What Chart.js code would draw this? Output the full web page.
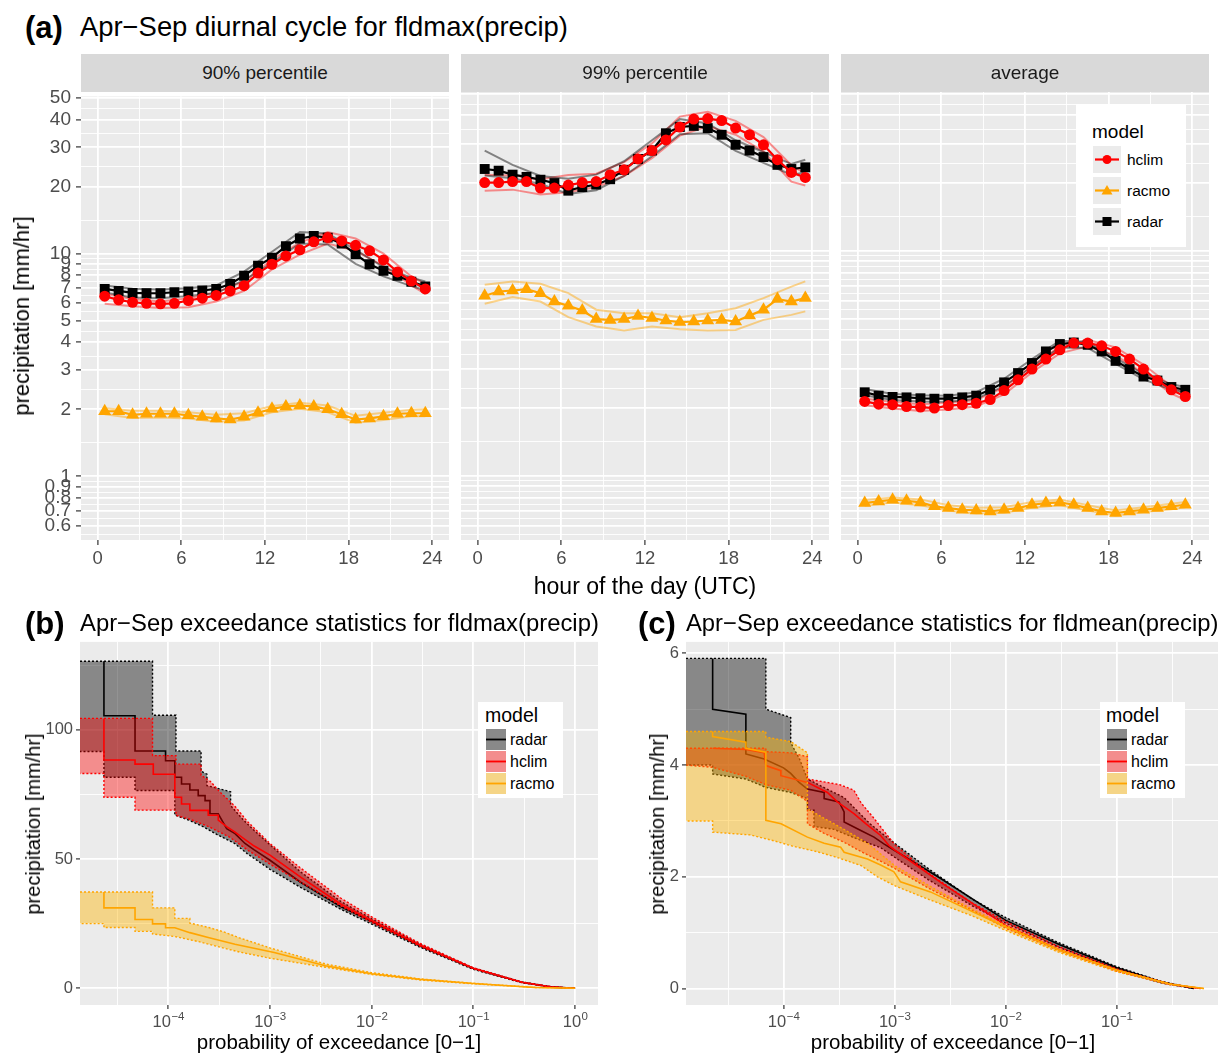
<!DOCTYPE html>
<html>
<head>
<meta charset="utf-8">
<title>Apr-Sep precipitation: diurnal cycle and exceedance</title>
<script src="https://cdn.jsdelivr.net/npm/chart.js@4.4.1/dist/chart.umd.min.js"></script>
<style>
  body { margin:0; width:1220px; height:1055px; position:relative; overflow:hidden; background:#fff;
         font-family:"Liberation Sans", Arial, sans-serif; color:#000; }
  canvas, .t, .strip, .box, svg { position:absolute; }
  .t { white-space:nowrap; line-height:1; }
  .strip { background:#d9d9d9; color:#1a1a1a; font-size:19px; text-align:center; line-height:38px; height:38px; }
  .box { background:#fff; }
</style>
</head>
<body>
<script>
// ---------- (a) diurnal cycle, hours of the day ----------
const HOURS = [0.5,1.5,2.5,3.5,4.5,5.5,6.5,7.5,8.5,9.5,10.5,11.5,12.5,13.5,14.5,15.5,16.5,17.5,18.5,19.5,20.5,21.5,22.5,23.5];
const BOUND_HOURS = [0.5,2.5,4.5,6.5,8.5,10.5,12.5,14.5,16.5,18.5,20.5,22.5,23.5];
const A_YTICKS = [0.6,0.7,0.8,0.9,1,2,3,4,5,6,7,8,9,10,20,30,40,50];
const A_XTICKS = [0,3,6,9,12,15,18,21,24];
const FACETS = ['90% percentile', '99% percentile', 'average'];

// 90% percentile
const P90_RADAR = [6.94,6.80,6.66,6.64,6.64,6.71,6.76,6.83,6.94,7.31,7.96,8.82,9.60,10.8,11.7,12.0,11.8,11.1,9.93,8.96,8.38,7.96,7.48,7.13];
const P90_HCLIM = [6.44,6.20,6.05,5.98,5.95,5.98,6.16,6.31,6.49,6.80,7.18,8.18,8.96,9.77,10.4,11.3,11.8,11.4,10.9,10.3,9.37,8.28,7.53,6.94];
const P90_RACMO = [1.96,1.96,1.89,1.91,1.91,1.91,1.88,1.85,1.82,1.80,1.85,1.93,2.01,2.06,2.08,2.06,2.00,1.90,1.80,1.82,1.86,1.91,1.92,1.92];
const P90_RADAR_HI = [7.2,6.95,6.9,7.0,7.2,8.3,10.2,12.5,12.3,10.4,8.7,7.8,7.5];
const P90_RADAR_LO = [6.7,6.35,6.3,6.45,6.65,7.6,9.1,11.1,11.0,9.0,7.9,7.15,6.85];
const P90_HCLIM_HI = [6.6,6.25,6.1,6.3,6.7,7.5,9.4,11.2,12.5,11.7,10.0,7.9,7.3];
const P90_HCLIM_LO = [5.95,5.8,5.7,5.75,6.1,6.8,8.5,9.9,11.1,10.3,8.8,7.2,6.6];
const P90_RACMO_HI = [2.02,1.97,1.97,1.94,1.89,1.92,2.07,2.14,2.08,1.87,1.93,1.99,2.00];
const P90_RACMO_LO = [1.90,1.83,1.84,1.82,1.76,1.78,1.94,2.01,1.94,1.74,1.79,1.86,1.86];

// 99% percentile
const P99_RADAR = [23.1,22.7,21.8,21.3,20.7,20.0,18.5,19.2,19.7,20.8,22.9,25.6,27.9,33.3,35.5,35.9,35.1,32.8,29.6,27.9,26.1,24.1,23.1,23.5];
const P99_HCLIM = [20.1,20.1,20.3,20.3,19.0,19.0,19.6,20.1,20.3,21.8,22.9,25.6,27.9,31.1,35.5,38.5,38.7,37.9,35.1,32.8,29.6,25.4,22.3,21.2];
const P99_RACMO = [6.31,6.59,6.66,6.75,6.48,5.95,5.69,5.43,4.97,4.93,4.97,5.13,5.02,4.90,4.82,4.85,4.90,4.93,4.85,5.15,5.47,6.10,5.95,6.16];
const P99_RADAR_HI = [27.9,24.1,21.5,20.9,21.8,25.0,31.0,38.5,36.8,31.0,27.5,24.3,25.4];
const P99_RADAR_LO = [21.6,21.0,19.8,17.9,18.6,21.5,26.3,33.0,33.3,27.8,24.6,21.8,22.3];
const P99_HCLIM_HI = [21.8,21.6,20.8,21.7,22.0,24.8,30.0,39.5,41.5,37.8,32.0,24.0,22.0];
const P99_HCLIM_LO = [18.5,18.7,17.8,18.2,19.2,21.5,25.8,32.5,35.8,32.8,27.6,20.3,19.5];
const P99_RACMO_HI = [7.06,7.31,7.13,6.48,5.47,5.28,5.28,5.07,5.28,5.55,6.16,6.93,7.31];
const P99_RACMO_LO = [5.81,6.23,5.95,5.07,4.61,4.42,4.61,4.48,4.42,4.45,4.93,5.19,5.38];

// average
const AVG_RADAR = [2.35,2.27,2.24,2.23,2.21,2.20,2.20,2.23,2.27,2.41,2.60,2.86,3.17,3.57,3.85,3.91,3.82,3.57,3.24,2.98,2.76,2.65,2.48,2.41];
const AVG_HCLIM = [2.14,2.08,2.07,2.03,2.02,2.00,2.05,2.07,2.10,2.18,2.39,2.67,2.98,3.30,3.63,3.89,3.89,3.78,3.57,3.30,2.98,2.65,2.41,2.25];
const AVG_RACMO = [0.756,0.769,0.782,0.774,0.761,0.731,0.718,0.706,0.701,0.694,0.706,0.718,0.743,0.756,0.761,0.743,0.718,0.694,0.683,0.694,0.706,0.718,0.731,0.743];
const AVG_RADAR_HI = [2.43,2.31,2.28,2.27,2.35,2.70,3.30,3.98,3.93,3.33,2.84,2.55,2.48];
const AVG_RADAR_LO = [2.28,2.17,2.14,2.13,2.20,2.50,3.05,3.72,3.70,3.14,2.68,2.41,2.35];
const AVG_HCLIM_HI = [2.20,2.13,2.08,2.11,2.17,2.47,3.08,3.75,4.02,3.72,3.12,2.50,2.32];
const AVG_HCLIM_LO = [2.06,1.99,1.94,1.97,2.03,2.30,2.88,3.50,3.76,3.43,2.85,2.32,2.17];
const AVG_RACMO_HI = [0.78,0.80,0.785,0.74,0.72,0.725,0.765,0.785,0.74,0.70,0.725,0.75,0.765];
const AVG_RACMO_LO = [0.735,0.76,0.74,0.70,0.68,0.685,0.72,0.74,0.70,0.665,0.69,0.71,0.725];

// ---------- (b) exceedance, fldmax: [probability, mm/hr] ----------
const B_XMIN = 1.355e-5, B_XMAX = 1.68;
const B_RADAR_HI = [[B_XMIN,126.5],[7.0e-5,126.5],[7.0e-5,105.6],[1.19e-4,105.6],[1.19e-4,91.8],[2.1e-4,91.8],[2.1e-4,84],[2.4e-4,82.8],[2.4e-4,78.4],[4.1e-4,76],[4.1e-4,70.7],[5.5e-4,65],[7e-4,61],[1e-3,55.5],[2e-3,45],[5e-3,33.5],[1e-2,26.8],[3e-2,17],[0.1,7.8],[0.3,2.4],[0.6,0.5],[1,0]];
const B_RADAR_LO = [[B_XMIN,91.6],[2.33e-5,91.6],[2.33e-5,81.6],[4.71e-5,81.6],[4.71e-5,76.5],[1.16e-4,76.5],[1.16e-4,67],[1.6e-4,65],[2.2e-4,62.5],[3e-4,59.5],[4.5e-4,56],[6e-4,52],[1e-3,46],[2e-3,39],[5e-3,30.5],[1e-2,24.8],[3e-2,15.8],[0.1,7.3],[0.3,2.1],[0.6,0.4],[1,0]];
const B_RADAR = [[2.33e-5,126.5],[2.33e-5,105.4],[4.71e-5,105.4],[4.71e-5,91.8],[9.4e-5,91.8],[9.4e-5,88],[1.16e-4,88],[1.16e-4,81.6],[1.35e-4,81.6],[1.35e-4,79],[1.63e-4,79],[1.63e-4,76.7],[1.97e-4,76.7],[1.97e-4,74.5],[2.3e-4,74.5],[2.3e-4,72.6],[2.57e-4,72.6],[2.57e-4,67.5],[3.1e-4,67.5],[3.75e-4,61.7],[4.53e-4,59.8],[5.68e-4,56],[7e-4,53.5],[1e-3,49.5],[2e-3,41],[5e-3,31.5],[1e-2,25.8],[3e-2,16.3],[0.1,7.6],[0.3,2.3],[0.6,0.4],[1,0]];
const B_HCLIM_HI = [[B_XMIN,104.4],[7.0e-5,104.4],[7.0e-5,90],[1.19e-4,90],[1.19e-4,86.7],[2.1e-4,86.7],[2.1e-4,82.4],[2.6e-4,80],[3.2e-4,76],[4.5e-4,70.5],[6e-4,64.5],[1e-3,56],[2e-3,46.5],[5e-3,34.8],[1e-2,27.6],[3e-2,17.3],[0.1,7.9],[0.3,2.4],[0.6,0.5],[1,0]];
const B_HCLIM_LO = [[B_XMIN,83.1],[2.33e-5,83.1],[2.33e-5,73.9],[4.71e-5,73.9],[4.71e-5,68.9],[1.19e-4,68.9],[1.19e-4,66.9],[1.6e-4,65.5],[2.5e-4,62.5],[4e-4,58.5],[6e-4,53.5],[1e-3,48],[2e-3,41],[5e-3,31.8],[1e-2,25.5],[3e-2,16.2],[0.1,7.5],[0.3,2.2],[0.6,0.4],[1,0]];
const B_HCLIM = [[2.33e-5,104.3],[2.33e-5,88.3],[4.71e-5,88.3],[4.71e-5,86.7],[7.12e-5,86.7],[7.12e-5,82.8],[1.16e-4,82.8],[1.16e-4,73.9],[1.35e-4,73.9],[1.35e-4,71.3],[1.63e-4,71.3],[1.63e-4,68.8],[2.47e-4,68.8],[2.47e-4,66.9],[3.1e-4,66.9],[3.1e-4,65],[3.75e-4,62.5],[4.5e-4,60.5],[5.7e-4,57.5],[7e-4,55],[1e-3,51.5],[2e-3,43],[5e-3,32.5],[1e-2,26.2],[3e-2,16.6],[0.1,7.7],[0.3,2.3],[0.6,0.4],[1,0]];
const B_RACMO_HI = [[B_XMIN,37.2],[7.0e-5,37.2],[7.0e-5,31.1],[1.16e-4,31.1],[1.16e-4,27],[1.63e-4,27],[1.63e-4,25.2],[2.5e-4,23.5],[3.5e-4,21.8],[5e-4,19.5],[1e-3,15.6],[3.5e-3,9.4],[1e-2,6.0],[3e-2,3.6],[0.1,1.9],[0.4,0.35],[1,0]];
const B_RACMO_LO = [[B_XMIN,25],[2.33e-5,25],[2.33e-5,23.5],[4.71e-5,23.5],[4.71e-5,22],[7.0e-5,22],[7.0e-5,21],[1.16e-4,20],[2e-4,18],[3e-4,16.2],[5e-4,14],[1e-3,11.6],[3.5e-3,8.1],[1e-2,5.3],[3e-2,3.2],[0.1,1.7],[0.4,0.3],[1,0]];
const B_RACMO = [[2.33e-5,37.2],[2.33e-5,31.1],[4.71e-5,31.1],[4.71e-5,26.6],[7.0e-5,26.6],[7.0e-5,24.9],[9.4e-5,24.9],[9.4e-5,23.4],[1.16e-4,23.4],[1.63e-4,21.5],[2.47e-4,19.6],[4.53e-4,17],[1.1e-3,13.8],[3.5e-3,8.7],[1e-2,5.6],[3e-2,3.4],[0.1,1.8],[0.4,0.3],[1,0]];

// ---------- (c) exceedance, fldmean ----------
const C_XMIN = 1.324e-5, C_XMAX = 0.815;
const C_RADAR_HI = [[C_XMIN,5.91],[6.93e-5,5.91],[6.93e-5,5.0],[1.16e-4,4.85],[1.16e-4,4.4],[1.4e-4,4.1],[1.64e-4,3.75],[2.3e-4,3.6],[3.5e-4,3.42],[4.5e-4,3.2],[6e-4,2.95],[8e-4,2.75],[1e-3,2.6],[2e-3,2.15],[5e-3,1.6],[1e-2,1.27],[3e-2,0.82],[0.1,0.39],[0.25,0.13],[0.5,0]];
const C_RADAR_LO = [[C_XMIN,4.0],[2.3e-5,4.0],[2.3e-5,3.84],[4.58e-5,3.75],[6.93e-5,3.6],[1.16e-4,3.51],[1.64e-4,3.4],[1.64e-4,3.19],[1.88e-4,3.19],[1.88e-4,2.9],[2.85e-4,2.85],[4.3e-4,2.7],[7.5e-4,2.52],[1e-3,2.35],[2e-3,1.95],[5e-3,1.48],[1e-2,1.17],[3e-2,0.74],[0.1,0.34],[0.25,0.1],[0.5,0]];
const C_RADAR = [[2.3e-5,5.91],[2.3e-5,5.0],[4.58e-5,4.91],[4.58e-5,4.2],[6.7e-5,4.11],[1.0e-4,3.95],[1.16e-4,3.85],[1.38e-4,3.69],[1.64e-4,3.57],[2.32e-4,3.51],[2.32e-4,3.40],[3.16e-4,3.34],[3.51e-4,3.16],[3.51e-4,2.98],[4.96e-4,2.83],[6.52e-4,2.71],[8.0e-4,2.59],[1e-3,2.47],[2.6e-3,1.97],[1e-2,1.22],[3.1e-2,0.78],[0.1,0.37],[0.25,0.12],[0.49,0]];
const C_HCLIM_HI = [[C_XMIN,4.3],[6.93e-5,4.3],[6.93e-5,4.24],[1.16e-4,4.22],[1.64e-4,4.15],[1.64e-4,3.75],[2.3e-4,3.7],[3.2e-4,3.65],[4.3e-4,3.55],[5e-4,3.32],[6.5e-4,3.05],[8e-4,2.82],[1e-3,2.58],[2e-3,2.07],[5e-3,1.53],[1e-2,1.2],[3e-2,0.75],[0.1,0.35],[0.3,0.08],[0.57,0]];
const C_HCLIM_LO = [[C_XMIN,4.0],[2.3e-5,3.96],[4.58e-5,3.8],[6.93e-5,3.65],[1.16e-4,3.55],[1.64e-4,3.35],[1.64e-4,2.95],[2.3e-4,2.78],[3.5e-4,2.62],[5e-4,2.45],[8e-4,2.25],[1e-3,2.15],[2e-3,1.8],[5e-3,1.4],[1e-2,1.08],[3e-2,0.68],[0.1,0.31],[0.3,0.07],[0.57,0]];
const C_HCLIM = [[2.3e-5,4.30],[4.58e-5,4.28],[6.7e-5,4.22],[6.93e-5,3.99],[9.46e-5,3.90],[9.46e-5,3.81],[1.64e-4,3.69],[2.48e-4,3.51],[3.05e-4,3.34],[4.3e-4,3.13],[5.49e-4,2.95],[7.48e-4,2.74],[8.89e-4,2.56],[1e-3,2.48],[2.6e-3,1.90],[1e-2,1.13],[3e-2,0.70],[0.1,0.33],[0.3,0.08],[0.57,0]];
const C_RACMO_HI = [[C_XMIN,4.6],[6.93e-5,4.6],[6.93e-5,4.5],[1.16e-4,4.42],[1.64e-4,4.22],[1.64e-4,3.22],[2.3e-4,3.05],[3.5e-4,2.85],[5.7e-4,2.6],[8e-4,2.36],[1e-3,2.2],[2e-3,1.85],[5e-3,1.42],[1e-2,1.13],[3e-2,0.71],[0.1,0.33],[0.3,0.08],[0.61,0]];
const C_RACMO_LO = [[C_XMIN,3.0],[2.3e-5,3.0],[2.3e-5,2.8],[5e-5,2.75],[8e-5,2.65],[1.2e-4,2.55],[2e-4,2.45],[3e-4,2.35],[5e-4,2.2],[7e-4,2.0],[1e-3,1.84],[2e-3,1.6],[5e-3,1.3],[1e-2,1.04],[3e-2,0.65],[0.1,0.3],[0.3,0.07],[0.61,0]];
const C_RACMO = [[2.3e-5,4.6],[2.3e-5,4.51],[4.58e-5,4.41],[4.58e-5,4.3],[6.93e-5,4.23],[6.93e-5,3.01],[9.5e-5,2.95],[1.64e-4,2.71],[2.32e-4,2.6],[3.27e-4,2.53],[3.51e-4,2.44],[5.69e-4,2.32],[7.48e-4,2.21],[9.86e-4,2.09],[1.13e-3,1.91],[2.1e-3,1.73],[5e-3,1.38],[1e-2,1.10],[3e-2,0.69],[0.1,0.33],[0.3,0.08],[0.61,0]];

const B_YTICKS = [0,50,100], B_YGRID = [0,25,50,75,100,125];
const C_YTICKS = [0,2,4,6], C_YGRID = [0,1,2,3,4,5,6];

const COL = { radar:'#000000', hclim:'#ff0000', racmo:'#ffa500' };
const FAINT = { radar:'rgba(0,0,0,0.45)', hclim:'rgba(255,0,0,0.42)', racmo:'rgba(255,165,0,0.45)' };
const BAND = { radar:'rgba(0,0,0,0.42)', hclim:'rgba(255,0,0,0.4)', racmo:'rgba(255,180,0,0.42)' };

Chart.defaults.font.family = '"Liberation Sans", Arial, sans-serif';
Chart.defaults.color = '#4d4d4d';
Chart.defaults.animation = false;
Chart.defaults.responsive = false;
Chart.defaults.devicePixelRatio = 1;
Chart.defaults.plugins.legend.display = false;
Chart.defaults.plugins.tooltip.enabled = false;

const PAD = 12;

function place(l, t, r, b, yW, xH) {
  const c = document.createElement('canvas');
  const w = r - l + yW + 2 * PAD, h = b - t + xH + 2 * PAD;
  c.width = w; c.height = h;
  c.style.left = (l - yW - PAD) + 'px'; c.style.top = (t - PAD) + 'px';
  c.style.width = w + 'px'; c.style.height = h + 'px';
  document.body.appendChild(c);
  return c;
}

function text(str, x, y, size, o = {}) {
  const d = document.createElement('div');
  d.className = 't';
  d.textContent = str;
  d.style.left = x + 'px'; d.style.top = y + 'px'; d.style.fontSize = size + 'px';
  if (o.bold) d.style.fontWeight = 'bold';
  if (o.color) d.style.color = o.color;
  d.style.transform = (o.left ? 'translate(0,-50%)' : 'translate(-50%,-50%)') + (o.rotate ? ' rotate(-90deg)' : '');
  document.body.appendChild(d);
  return d;
}

// grey panel background, like ggplot
const panelBg = {
  id: 'panelBg',
  beforeDraw(chart) {
    const a = chart.chartArea, ctx = chart.ctx;
    ctx.save();
    ctx.fillStyle = '#ebebeb';
    ctx.fillRect(a.left, a.top, a.right - a.left, a.bottom - a.top);
    ctx.restore();
  }
};

// 10^k labels with a raised exponent
const expLabels = {
  id: 'expLabels',
  afterDraw(chart, args, opts) {
    const sx = chart.scales.x, ctx = chart.ctx, y = chart.chartArea.bottom + 22;
    ctx.save();
    ctx.fillStyle = '#4d4d4d';
    ctx.textBaseline = 'alphabetic';
    for (const e of opts.exps) {
      const x = sx.getPixelForValue(Math.pow(10, e));
      const sup = e === 0 ? '0' : '\u2212' + (-e);
      ctx.font = '16.5px "Liberation Sans"';
      const wb = ctx.measureText('10').width;
      ctx.font = '11.5px "Liberation Sans"';
      const ws = ctx.measureText(sup).width;
      const x0 = x - (wb + ws) / 2;
      ctx.font = '16.5px "Liberation Sans"';
      ctx.fillText('10', x0, y);
      ctx.font = '11.5px "Liberation Sans"';
      ctx.fillText(sup, x0 + wb + 0.5, y - 7);
    }
    ctx.restore();
  }
};

const isIn = (list, v) => list.some(t => Math.abs(t - v) < 1e-9 * Math.max(1, Math.abs(t)));
const isDecade = v => Math.abs(Math.log10(v) - Math.round(Math.log10(v))) < 1e-6;

// ---------- (a) ----------
const A_TOP = 92, A_BOTTOM = 540;
const A_YGRID = A_YTICKS.concat([Math.sqrt(0.5 * 0.6)],
  A_YTICKS.slice(1).map((v, i) => Math.sqrt(v * A_YTICKS[i])));

function facet(left, right, showY, s) {
  const yW = showY ? 55 : 0;
  const cv = place(left, A_TOP, right, A_BOTTOM, yW, 32);
  const pts = (xs, ys) => xs.map((h, i) => ({ x: h, y: ys[i] }));
  const bound = (ys, color) => ({ data: pts(BOUND_HOURS, ys), borderColor: color, borderWidth: 2, pointRadius: 0, order: 10 });
  const main = (ys, color, style, r, order) => ({
    data: pts(HOURS, ys), borderColor: color, backgroundColor: color, borderWidth: 2.2,
    pointStyle: style, pointRadius: r, pointBorderWidth: 0, order
  });
  new Chart(cv, {
    type: 'line',
    data: { datasets: [
      bound(s.racmoHi, FAINT.racmo), bound(s.racmoLo, FAINT.racmo),
      bound(s.radarHi, FAINT.radar), bound(s.radarLo, FAINT.radar),
      bound(s.hclimHi, FAINT.hclim), bound(s.hclimLo, FAINT.hclim),
      main(s.racmo, COL.racmo, 'triangle', 7.5, 3),
      main(s.radar, COL.radar, 'rect', 7, 2),
      main(s.hclim, COL.hclim, 'circle', 5.5, 1)
    ] },
    options: {
      layout: { padding: PAD },
      scales: {
        x: {
          type: 'linear', min: -1.2, max: 25.2,
          afterBuildTicks: sc => { sc.ticks = A_XTICKS.map(v => ({ value: v })); },
          afterFit: sc => { sc.height = 32; },
          ticks: { autoSkip: false, maxRotation: 0, padding: 3, font: { size: 18.5 },
                   callback: v => (v % 6 === 0 ? String(v) : '') },
          grid: { color: '#ffffff', lineWidth: c => (c.tick && c.tick.value % 6 === 0 ? 1.8 : 0.9),
                  tickLength: 5, tickWidth: 1.2,
                  tickColor: c => (c.tick && c.tick.value % 6 === 0 ? '#333333' : 'rgba(0,0,0,0)') },
          border: { display: false }
        },
        y: {
          type: 'logarithmic', min: 0.518, max: 50.8, bounds: 'data',
          afterBuildTicks: sc => { sc.ticks = A_YGRID.map(v => ({ value: v })); },
          afterFit: sc => { sc.width = yW; },
          ticks: { display: showY, autoSkip: false, padding: 5, font: { size: 19 },
                   callback: v => (isIn(A_YTICKS, v) ? String(v) : '') },
          grid: { color: '#ffffff', lineWidth: c => (c.tick && isIn(A_YTICKS, c.tick.value) ? 1.8 : 0.9),
                  drawTicks: showY, tickLength: 5, tickWidth: 1.2,
                  tickColor: c => (c.tick && isIn(A_YTICKS, c.tick.value) ? '#333333' : 'rgba(0,0,0,0)') },
          border: { display: false }
        }
      }
    },
    plugins: [panelBg]
  });
}

const FACET_X = [[81, 449], [461, 829], [841, 1209]];
facet(FACET_X[0][0], FACET_X[0][1], true, {
  radar: P90_RADAR, hclim: P90_HCLIM, racmo: P90_RACMO,
  radarHi: P90_RADAR_HI, radarLo: P90_RADAR_LO, hclimHi: P90_HCLIM_HI, hclimLo: P90_HCLIM_LO,
  racmoHi: P90_RACMO_HI, racmoLo: P90_RACMO_LO });
facet(FACET_X[1][0], FACET_X[1][1], false, {
  radar: P99_RADAR, hclim: P99_HCLIM, racmo: P99_RACMO,
  radarHi: P99_RADAR_HI, radarLo: P99_RADAR_LO, hclimHi: P99_HCLIM_HI, hclimLo: P99_HCLIM_LO,
  racmoHi: P99_RACMO_HI, racmoLo: P99_RACMO_LO });
facet(FACET_X[2][0], FACET_X[2][1], false, {
  radar: AVG_RADAR, hclim: AVG_HCLIM, racmo: AVG_RACMO,
  radarHi: AVG_RADAR_HI, radarLo: AVG_RADAR_LO, hclimHi: AVG_HCLIM_HI, hclimLo: AVG_HCLIM_LO,
  racmoHi: AVG_RACMO_HI, racmoLo: AVG_RACMO_LO });

FACETS.forEach((name, i) => {
  const d = document.createElement('div');
  d.className = 'strip';
  d.textContent = name;
  d.style.left = FACET_X[i][0] + 'px';
  d.style.top = '54px';
  d.style.width = (FACET_X[i][1] - FACET_X[i][0]) + 'px';
  document.body.appendChild(d);
});

text('(a)', 25, 27, 31, { left: true, bold: true });
text('Apr\u2212Sep diurnal cycle for fldmax(precip)', 80, 27, 27.4, { left: true });
text('precipitation [mm/hr]', 22, 316, 22, { rotate: true });
text('hour of the day (UTC)', 645, 586, 23);

// legend of (a)
(function () {
  const b = document.createElement('div');
  b.className = 'box';
  Object.assign(b.style, { left: '1076px', top: '104px', width: '110px', height: '143px' });
  document.body.appendChild(b);
  text('model', 1092, 131, 19, { left: true });
  const marks = {
    hclim: '<circle cx="14" cy="13.5" r="4.5" fill="#ff0000"/>',
    racmo: '<polygon points="14,8 19.5,17.5 8.5,17.5" fill="#ffa500"/>',
    radar: '<rect x="9.5" y="9" width="9" height="9" fill="#000"/>'
  };
  ['hclim', 'racmo', 'radar'].forEach((m, i) => {
    const top = 146 + i * 31;
    const svg = document.createElementNS('http://www.w3.org/2000/svg', 'svg');
    svg.setAttribute('width', 28); svg.setAttribute('height', 27);
    svg.style.left = '1093px'; svg.style.top = top + 'px';
    svg.innerHTML = '<rect width="28" height="27" fill="#ebebeb"/>' +
      `<line x1="2" y1="13.5" x2="26" y2="13.5" stroke="${COL[m]}" stroke-width="2.2"/>` + marks[m];
    document.body.appendChild(svg);
    text(m, 1127, top + 14, 15.5, { left: true });
  });
})();

// ---------- (b) and (c) ----------
function exceedance(box, xmin, xmax, ymin, ymax, yticks, ygrid, yW, exps, s) {
  const [l, t, r, b] = box;
  const cv = place(l, t, r, b, yW, 30);
  const band = (hi, lo, m, order) => ({
    data: hi.concat(lo.slice().reverse()), fill: 'shape', backgroundColor: BAND[m],
    borderColor: COL[m], borderWidth: 1.4, borderDash: [2, 2], pointRadius: 0, order
  });
  const line = (pts, m, order) => ({ data: pts, borderColor: COL[m], borderWidth: 1.6, pointRadius: 0, fill: false, order });
  const xgrid = [];
  for (let k = Math.ceil(Math.log10(xmin) * 2); k <= Math.floor(Math.log10(xmax) * 2); k++) xgrid.push(Math.pow(10, k / 2));
  new Chart(cv, {
    type: 'line',
    data: { datasets: [
      band(s.radarHi, s.radarLo, 'radar', 9), line(s.radar, 'radar', 8),
      band(s.hclimHi, s.hclimLo, 'hclim', 7), line(s.hclim, 'hclim', 6),
      band(s.racmoHi, s.racmoLo, 'racmo', 5), line(s.racmo, 'racmo', 4)
    ] },
    options: {
      layout: { padding: PAD },
      plugins: { expLabels: { exps } },
      scales: {
        x: {
          type: 'logarithmic', min: xmin, max: xmax, bounds: 'data',
          afterBuildTicks: sc => { sc.ticks = xgrid.map(v => ({ value: v })); },
          afterFit: sc => { sc.height = 30; },
          ticks: { display: false },
          grid: { color: '#ffffff', lineWidth: c => (c.tick && isDecade(c.tick.value) ? 1.8 : 0.9),
                  tickLength: 4, tickWidth: 1.2,
                  tickColor: c => (c.tick && isDecade(c.tick.value) ? '#333333' : 'rgba(0,0,0,0)') },
          border: { display: false }
        },
        y: {
          type: 'linear', min: ymin, max: ymax,
          afterBuildTicks: sc => { sc.ticks = ygrid.map(v => ({ value: v })); },
          afterFit: sc => { sc.width = yW; },
          ticks: { autoSkip: false, padding: 3, font: { size: 16.5 },
                   callback: v => (yticks.includes(v) ? String(v) : '') },
          grid: { color: '#ffffff', lineWidth: c => (c.tick && yticks.includes(c.tick.value) ? 1.8 : 0.9),
                  tickLength: 4, tickWidth: 1.2,
                  tickColor: c => (c.tick && yticks.includes(c.tick.value) ? '#333333' : 'rgba(0,0,0,0)') },
          border: { display: false }
        }
      }
    },
    plugins: [panelBg, expLabels]
  });
}

exceedance([80, 641, 598, 1005], B_XMIN, B_XMAX, -6.5, 134, B_YTICKS, B_YGRID, 42, [-4, -3, -2, -1, 0], {
  radar: B_RADAR, radarHi: B_RADAR_HI, radarLo: B_RADAR_LO,
  hclim: B_HCLIM, hclimHi: B_HCLIM_HI, hclimLo: B_HCLIM_LO,
  racmo: B_RACMO, racmoHi: B_RACMO_HI, racmoLo: B_RACMO_LO });
exceedance([686, 641, 1218, 1005], C_XMIN, C_XMAX, -0.295, 6.205, C_YTICKS, C_YGRID, 30, [-4, -3, -2, -1], {
  radar: C_RADAR, radarHi: C_RADAR_HI, radarLo: C_RADAR_LO,
  hclim: C_HCLIM, hclimHi: C_HCLIM_HI, hclimLo: C_HCLIM_LO,
  racmo: C_RACMO, racmoHi: C_RACMO_HI, racmoLo: C_RACMO_LO });

text('(b)', 25, 623, 31, { left: true, bold: true });
text('Apr\u2212Sep exceedance statistics for fldmax(precip)', 80, 623, 23.85, { left: true });
text('(c)', 638, 623, 31, { left: true, bold: true });
text('Apr\u2212Sep exceedance statistics for fldmean(precip)', 686, 623, 23.8, { left: true });
text('precipitation [mm/hr]', 33, 824, 20, { rotate: true });
text('probability of exceedance [0\u22121]', 339, 1042, 20.5);
text('precipitation [mm/hr]', 657, 824, 20, { rotate: true });
text('probability of exceedance [0\u22121]', 953, 1042, 20.5);

// legends of (b) and (c)
const KEY_FILL = { radar: '#898989', hclim: '#f38d8d', racmo: '#f5d587' };
[[478, 485], [1100, 1106]].forEach(([bx, tx]) => {
  const b = document.createElement('div');
  b.className = 'box';
  Object.assign(b.style, { left: bx + 'px', top: '702px', width: '85px', height: '96px' });
  document.body.appendChild(b);
  text('model', tx, 716, 19.5, { left: true });
  ['radar', 'hclim', 'racmo'].forEach((m, i) => {
    const top = 729 + i * 22;
    const svg = document.createElementNS('http://www.w3.org/2000/svg', 'svg');
    svg.setAttribute('width', 20); svg.setAttribute('height', 21);
    svg.style.left = (tx + 1) + 'px'; svg.style.top = top + 'px';
    svg.innerHTML = `<rect width="20" height="21" fill="${KEY_FILL[m]}"/>` +
      `<line x1="0" y1="10.5" x2="20" y2="10.5" stroke="${COL[m]}" stroke-width="1.8"/>`;
    document.body.appendChild(svg);
    text(m, tx + 25, top + 10.5, 16, { left: true });
  });
});
</script>
</body>
</html>
